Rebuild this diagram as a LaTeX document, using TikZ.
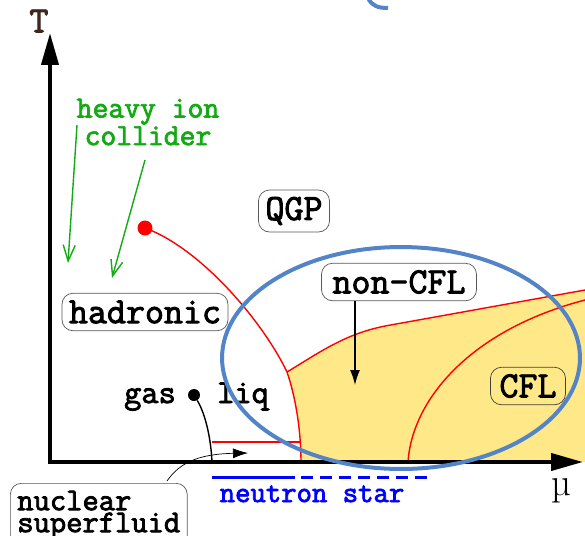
\documentclass[tikz,border=0pt]{standalone}
\usepackage{fontspec}
\usepackage{xcolor}
\usepackage{tikz}
\usetikzlibrary{arrows.meta,positioning}
\newfontfamily\heavytt{Latin Modern Mono}[FakeBold=2.6]
\definecolor{cflyellow}{RGB}{255,232,135}
\definecolor{ringblue}{RGB}{84,132,200}
\definecolor{hicgreen}{RGB}{20,170,20}
\definecolor{labelbrown}{RGB}{60,40,30}

\begin{document}
\begin{tikzpicture}[
  x=0.02cm, y=-0.02cm,
  phase/.style={rectangle, rounded corners=2.2mm, draw=black!65, thin, fill=white, inner xsep=1.4mm, minimum height=7.5mm, font=\heavytt\fontsize{21}{23}\selectfont},
  plain/.style={inner sep=0pt, font=\heavytt\fontsize{19}{20}\selectfont},
  axis/.style={-{Triangle[length=6.4mm, width=3.4mm]}, line width=0.8mm},
  border/.style={red, thick},
  hic/.style={-{Straight Barb[length=3.2mm, width=2.4mm]}, hicgreen, thick},
  pointer/.style={-{Latex[length=3mm, width=2mm]}, thick}
]
\useasboundingbox (0,0) rectangle (585,535);

\coordinate (origin) at (50,462);
\coordinate (ttop) at (50,33);
\coordinate (mutop) at (583,462);
\coordinate (cep) at (145,228);
\coordinate (triple) at (287,372);
\coordinate (edge) at (301,462);
\coordinate (cflfoot) at (408,462);

% colour superconducting region
\fill[cflyellow] (triple) .. controls (320,352) and (345,334) .. (385,326)
  -- (585,290) -- (585,462) -- (edge)
  .. controls (301,432) and (296,398) .. (triple);

\draw[border] (cep) .. controls (200,248) and (262,320) .. (triple)
  .. controls (296,398) and (301,432) .. (edge);
\draw[border] (triple) .. controls (320,352) and (345,334) .. (385,326) -- (585,290);
\draw[border] (cflfoot) .. controls (412,400) and (470,330) .. (585,300);
\draw[border] (212,442) -- (301,442);
\fill[red] (cep) circle (1.5mm);

\draw[axis] (origin) -- (ttop);
\draw[axis] ([xshift=-0.4mm]origin) -- (mutop);
\node[labelbrown, font=\heavytt\fontsize{21}{22}\selectfont] (tlabel) at (39,21) {T};
\node[font=\fontsize{22}{24}\selectfont] (mulabel) at (561,491) {µ};

\node[hicgreen, align=center, font=\heavytt\fontsize{17.5}{14.5}\selectfont] (hic) at (148,122) {heavy ion\\collider};
\coordinate (hicA) at (77,125);
\coordinate (hicB) at (145,160);
\draw[hic] (hicA) -- (68,263);
\draw[hic] (hicB) -- (112,278);

\node[phase, minimum height=8.4mm] (qgp) at (294,211) {QGP};
\node[phase] (hadronic) at (145,312) {hadronic};
\node[phase, inner xsep=2.2mm] (noncfl) at (399,282) {non-CFL};
\node[phase, fill=cflyellow, draw=black!75, inner xsep=1.8mm] (cfl) at (528,386) {CFL};

\node[plain, anchor=base] (gas) at (150,403) {gas};
\node[plain, anchor=base] (liq) at (243,403) {liq};
\node[circle, fill=black, inner sep=0pt, minimum size=2.4mm] (lgdot) at (194,395) {};
\draw[thick] (lgdot) .. controls (206,415) and (211,440) .. (212,462);

\coordinate (noncflpt) at (355,385);
\draw[pointer] (noncflpt |- noncfl.south) -- (noncflpt);

\node[phase, anchor=north west, align=left, inner xsep=1.4mm, inner ysep=1.5mm, font=\heavytt\fontsize{18}{12.5}\selectfont] (nsf) at (10,483) {nuclear\\superfluid};
\coordinate (nsfpt) at (248,453);
\draw[-{Latex[length=3mm, width=2mm]}] (167,481) .. controls (180,462) and (200,454) .. (nsfpt);

\draw[blue, line width=0.6mm] (212,477) -- (295,477);
\draw[blue, line width=0.6mm, dash pattern=on 2.4mm off 1.4mm] (301,477) -- (428,477);
\node[blue, anchor=base, font=\heavytt\fontsize{17}{18}\selectfont] (nstar) at (312,502) {neutron star};

% highlight ring
\draw[ringblue, line width=0.8mm] (401,358) ellipse [x radius=3.58cm, y radius=2.22cm];
\draw[ringblue, line width=0.8mm] (368,-2) .. controls (372,6) and (378,8) .. (388,8);
\end{tikzpicture}
\end{document}
